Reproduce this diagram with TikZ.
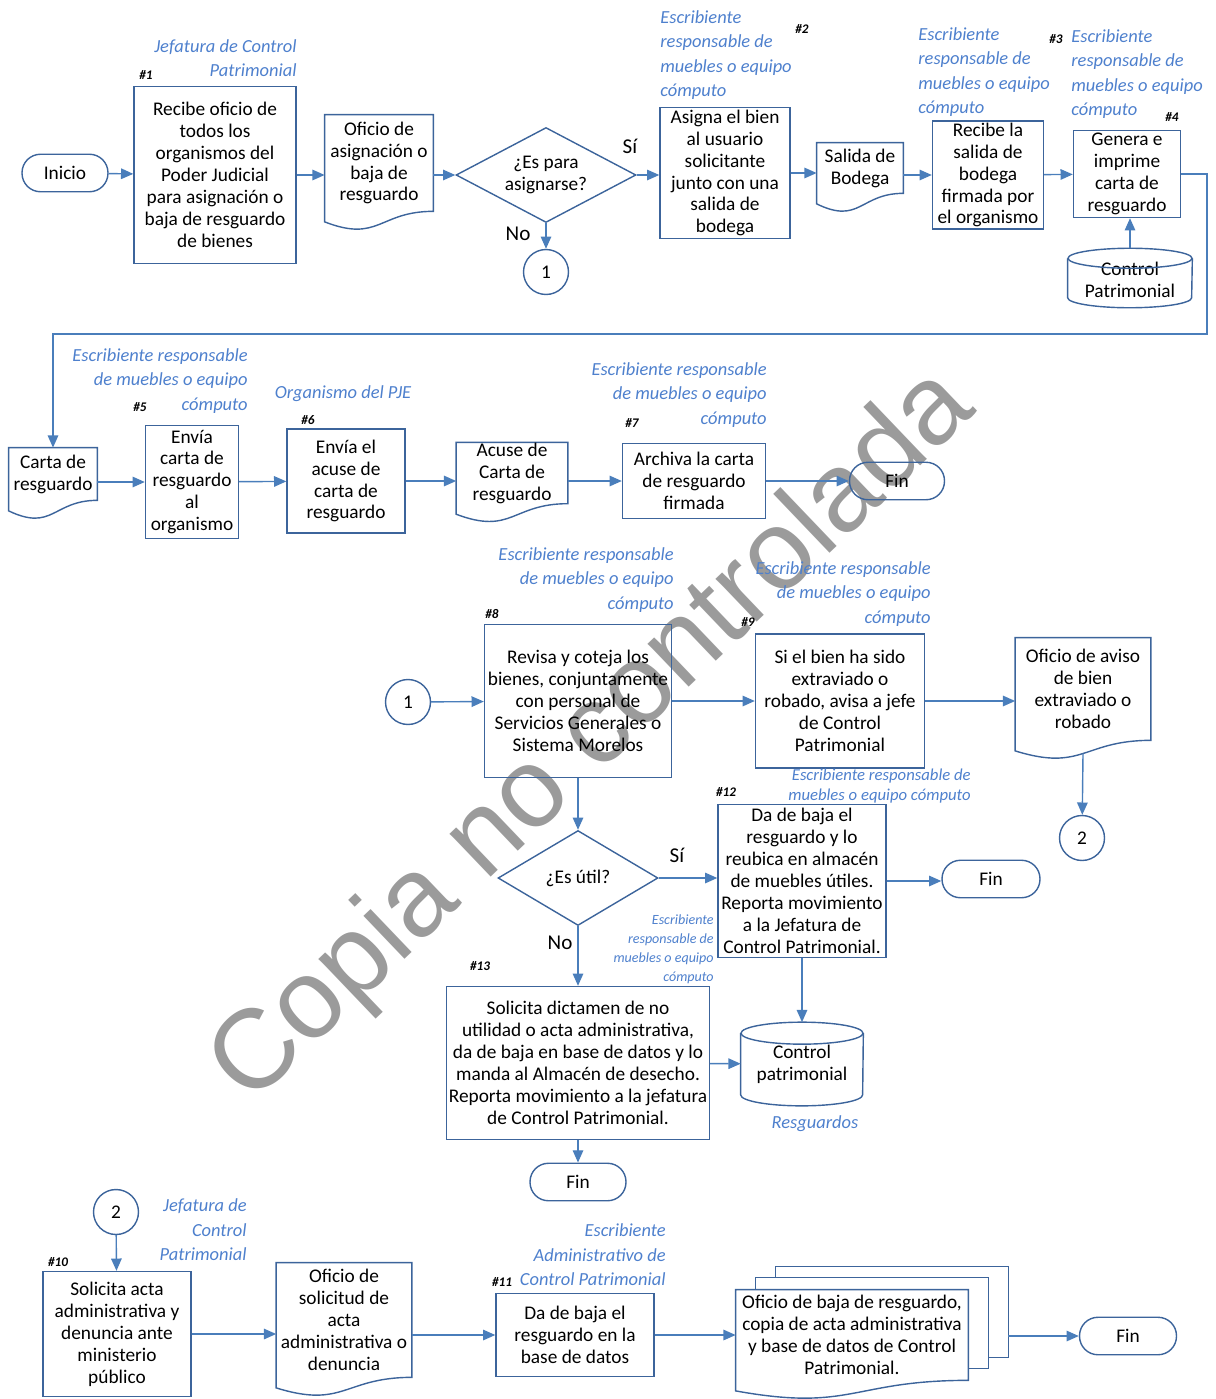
\documentclass[tikz,border=0pt]{standalone}
\usepackage{fontspec}
\setmainfont{Carlito}
\newfontfamily\markfont{Liberation Sans}
\usepackage{tikz}
\usetikzlibrary{shapes.geometric,arrows.meta}

\definecolor{flowline}{RGB}{74,126,187}
\definecolor{flowedge}{RGB}{60,100,155}
\definecolor{rolecol}{RGB}{78,128,205}
\definecolor{markgray}{RGB}{155,155,155}

\newcommand{\flowfont}{\fontsize{11}{12.5}\selectfont}
\newcommand{\rolefont}{\fontsize{10.5}{14}\selectfont\itshape}
\newcommand{\smallrole}{\fontsize{9.5}{11.9}\selectfont\itshape}
\newcommand{\tinyrole}{\fontsize{8}{10.8}\selectfont\itshape}
\newcommand{\stepfont}{\fontsize{7.5}{8}\selectfont\bfseries\itshape}

\pgfdeclarelayer{back}
\pgfsetlayers{back,main}

\newcommand{\docwave}[1]{%
  \begin{pgfonlayer}{back}
    \draw[flow, fill=white] (#1.south east) -- (#1.north east) -- (#1.north west)
      -- ([yshift=-6pt]#1.south west) .. controls ([yshift=-18pt]#1.south) and (#1.south) .. (#1.south east) -- cycle;
  \end{pgfonlayer}}

\newcommand{\dbdrum}[3]{%
  \draw[flow] (#1.north) ellipse[x radius=#2, y radius=#3];
  \draw[flow] (#1.north west) -- (#1.south west)
    arc[start angle=180, end angle=360, x radius=#2, y radius=#3] -- (#1.north east);}

\begin{document}
\begin{tikzpicture}[x=0.02cm, y=-0.02cm,
  every node/.style={font=\flowfont},
  flow/.style={draw=flowedge, line width=0.8pt},
  proc/.style={flow, rectangle, align=center, inner sep=1pt},
  paper/.style={align=center, inner sep=1pt},
  term/.style={flow, rectangle, rounded corners=0.37cm, minimum width=1.94cm, minimum height=0.75cm},
  ask/.style={flow, diamond, align=center, inner sep=0pt},
  link/.style={flow, circle, minimum size=0.9cm, inner sep=0pt},
  datastore/.style={align=center, inner sep=0pt},
  role/.style={font=\rolefont, text=rolecol, inner sep=0pt},
  stepno/.style={font=\stepfont, inner sep=0pt},
  answer/.style={font=\fontsize{12}{14}\selectfont, inner sep=0pt},
  arr/.style={draw=flowline, line width=0.8pt, -{Triangle[length=7pt,width=6pt]}}]

  \useasboundingbox (0,0) rectangle (1215,1399);

  \node[rotate=43.7, text=markgray, font=\markfont\fontsize{64}{70}\selectfont, inner sep=0pt] (wm) at (594,738) {Copia no controlada};

  \node[term, minimum width=1.72cm] (ini) at (65,173) {Inicio};
  \node[proc, minimum width=3.24cm, minimum height=3.54cm] (b1) at (215,175) {Recibe oficio de\\todos los\\organismos del\\Poder Judicial\\para asignación o\\baja de resguardo\\de bienes};
  \node[paper, minimum width=2.16cm, minimum height=1.92cm] (d1) at (379,163) {Oficio de\\asignación o\\baja de\\resguardo};
  \docwave{d1}
  \node[ask, aspect=1.9, minimum width=3.6cm, minimum height=1.9cm] (q1) at (546,175) {¿Es para\\asignarse?};
  \node[link] (c1) at (546,272) {1};
  \node[proc, minimum width=2.6cm, minimum height=2.62cm] (b2) at (725,173) {Asigna el bien\\al usuario\\solicitante\\junto con una\\salida de\\bodega};
  \node[paper, minimum width=1.72cm, minimum height=1cm] (d2) at (860,168) {Salida de\\Bodega};
  \docwave{d2}
  \node[proc, minimum width=2.22cm, minimum height=2.12cm] (b3) at (988,175) {Recibe la\\salida de\\bodega\\firmada por\\el organismo};
  \node[proc, minimum width=2.14cm, minimum height=1.74cm] (b4) at (1127,174) {Genera e\\imprime\\carta de\\resguardo};
  \node[datastore, minimum width=2.48cm, minimum height=0.7cm] (db1) at (1130,278) {\\[-3pt]Control\\Patrimonial};
  \dbdrum{db1}{1.24cm}{0.2cm}

  \node[role, anchor=east, align=right] (r1) at (297,58) {Jefatura de Control\\Patrimonial};
  \node[stepno] (n1) at (146,75) {\#1};
  \node[role, anchor=west, align=left] (r2) at (660,55) {Escribiente\\responsable de\\muebles o equipo\\cómputo};
  \node[stepno] (n2) at (802,29) {\#2};
  \node[role, anchor=west, align=left] (r3) at (918,72) {Escribiente\\responsable de\\muebles o equipo\\cómputo};
  \node[stepno] (n3) at (1056,39) {\#3};
  \node[role, anchor=west, align=left] (r4) at (1071,74) {Escribiente\\responsable de\\muebles o equipo\\cómputo};
  \node[stepno] (n4) at (1172,117) {\#4};
  \node[answer] (si1) at (630,146) {Sí};
  \node[answer] (no1) at (518,234) {No};

  \node[paper, minimum width=1.76cm, minimum height=1.04cm] (d3) at (53,474) {Carta de\\resguardo};
  \docwave{d3}
  \node[role, anchor=east, align=right] (r5) at (248,381) {Escribiente responsable\\de muebles o equipo\\cómputo};
  \node[stepno] (n5) at (140,407) {\#5};
  \node[proc, minimum width=1.86cm, minimum height=2.26cm] (b5) at (192,482) {Envía\\carta de\\resguardo\\al\\organismo};
  \node[role] (r6) at (343,394) {Organismo del PJE};
  \node[stepno] (n6) at (308,420) {\#6};
  \node[proc, minimum width=2.36cm, minimum height=2.08cm] (b6) at (346,481) {Envía el\\acuse de\\carta de\\resguardo};
  \node[paper, minimum width=2.22cm, minimum height=1.2cm, inner sep=0pt] (d4) at (512,473) {Acuse de\\Carta de\\resguardo};
  \docwave{d4}
  \node[role, anchor=east, align=right] (r7) at (767,395) {Escribiente responsable\\de muebles o equipo\\cómputo};
  \node[stepno] (n7) at (632,423) {\#7};
  \node[proc, minimum width=2.86cm, minimum height=1.5cm] (b7) at (694,481) {Archiva la carta\\de resguardo\\firmada};
  \node[term, minimum width=1.9cm] (fin1) at (897,481) {Fin};

  \node[link] (c2) at (408,702) {1};
  \node[proc, minimum width=3.74cm, minimum height=3.06cm] (b8) at (578,701) {Revisa y coteja los\\bienes, conjuntamente\\con personal de\\Servicios Generales o\\Sistema Morelos};
  \node[role, anchor=east, align=right] (r8) at (674,580) {Escribiente responsable\\de muebles o equipo\\cómputo};
  \node[stepno] (n8) at (492,614) {\#8};
  \node[proc, minimum width=3.38cm, minimum height=2.68cm] (b9) at (840,701) {Si el bien ha sido\\extraviado o\\robado, avisa a jefe\\de Control\\Patrimonial};
  \node[role, anchor=east, align=right] (r9) at (931,594) {Escribiente responsable\\de muebles o equipo\\cómputo};
  \node[stepno] (n9) at (748,622) {\#9};
  \node[paper, minimum width=2.7cm, minimum height=2.04cm] (d5) at (1083,689) {Oficio de aviso\\de bien\\extraviado o\\robado};
  \docwave{d5}
  \node[link] (c3) at (1082,838) {2};
  \node[role, anchor=east, align=right, font=\smallrole] (r12) at (971,786) {Escribiente responsable de\\muebles o equipo cómputo};
  \node[ask, aspect=1.7, minimum width=3.2cm, minimum height=1.9cm] (q2) at (578,878) {¿Es útil?};
  \node[proc, minimum width=3.36cm, minimum height=3.06cm] (b12) at (802,881) {Da de baja el\\resguardo y lo\\reubica en almacén\\de muebles útiles.\\Reporta movimiento\\a la Jefatura de\\Control Patrimonial.};
  \node[stepno] (n12) at (726,792) {\#12};
  \node[term, minimum width=1.96cm] (fin2) at (991,879) {Fin};
  \node[answer] (si2) at (677,855) {Sí};
  \node[answer] (no2) at (560,943) {No};
  \node[role, anchor=east, align=right, font=\tinyrole] (r13) at (714,949) {Escribiente\\responsable de\\muebles o equipo\\cómputo};
  \node[proc, minimum width=5.26cm, minimum height=3.06cm] (b13) at (578,1063) {Solicita dictamen de no\\utilidad o acta administrativa,\\da de baja en base de datos y lo\\manda al Almacén de desecho.\\Reporta movimiento a la jefatura\\de Control Patrimonial.};
  \node[stepno] (n13) at (480,966) {\#13};
  \node[datastore, minimum width=2.44cm, minimum height=1.22cm] (db2) at (802,1064) {Control\\patrimonial};
  \dbdrum{db2}{1.22cm}{0.22cm}
  \node[role] (r14) at (815,1124) {Resguardos};
  \node[term, minimum width=1.92cm] (fin3) at (578,1182) {Fin};

  \node[link] (c4) at (116,1212) {2};
  \node[role, anchor=east, align=right] (r10) at (247,1230) {Jefatura de\\Control\\Patrimonial};
  \node[stepno] (n10) at (58,1262) {\#10};
  \node[proc, minimum width=2.96cm, minimum height=2.5cm] (b10) at (117,1334) {Solicita acta\\administrativa y\\denuncia ante\\ministerio\\público};
  \node[paper, minimum width=2.7cm, minimum height=2.28cm] (d6) at (344,1320) {Oficio de\\solicitud de\\acta\\administrativa o\\denuncia};
  \docwave{d6}
  \node[role, anchor=east, align=right] (r11) at (666,1255) {Escribiente\\Administrativo de\\Control Patrimonial};
  \node[stepno] (n11) at (502,1282) {\#11};
  \node[proc, minimum width=3.16cm, minimum height=1.66cm] (b11) at (575,1335) {Da de baja el\\resguardo en la\\base de datos};
  \node[paper, minimum width=4.64cm, minimum height=1.8cm] (md) at (852,1335) {Oficio de baja de resguardo,\\copia de acta administrativa\\y base de datos de Control\\Patrimonial.};
  \begin{pgfonlayer}{back}
    \draw[flow, fill=white] ([shift={(40,-23)}]md.north west) rectangle ([shift={(40,-23)}]md.south east);
    \draw[flow, fill=white] ([shift={(20,-12)}]md.north west) rectangle ([shift={(20,-12)}]md.south east);
  \end{pgfonlayer}
  \docwave{md}
  \coordinate (mdback) at ([shift={(40,-23)}]md.south east);
  \node[term] (fin4) at (1128,1336) {Fin};

  \coordinate (turn) at (1207,334);

  \draw[arr] (ini) -- (b1);
  \draw[arr] (b1.east) -- (b1.east -| d1.west);
  \draw[arr] (d1.east |- q1.west) -- (q1.west);
  \draw[arr] (q1.east) -- (q1.east -| b2.west);
  \draw[arr] (q1) -- (c1);
  \draw[arr] (b2.east) -- (b2.east -| d2.west);
  \draw[arr] (d2.east |- b3.west) -- (b3.west);
  \draw[arr] (b3) -- (b4);
  \draw[arr] ([yshift=0.2cm]db1.north) -- (db1.north |- b4.south);
  \draw[arr] (b4.east) -| (turn) -| (d3.north);

  \draw[arr] (d3.east |- b5.west) -- (b5.west);
  \draw[arr] (b5) -- (b6);
  \draw[arr] (b6.east) -- (b6.east -| d4.west);
  \draw[arr] (d4.east |- b7.west) -- (b7.west);
  \draw[arr] (b7) -- (fin1);

  \draw[arr] (c2) -- (b8);
  \draw[arr] (b8) -- (b9);
  \draw[arr] (b9.east) -- (b9.east -| d5.west);
  \draw[arr] ([yshift=-7.5pt]d5.south) -- (c3);
  \draw[arr] (b8) -- (q2);
  \draw[arr] (q2.east) -- (q2.east -| b12.west);
  \draw[arr] (b12.east) -- (b12.east -| fin2.west);
  \draw[arr] (q2) -- (b13);
  \draw[arr] (b12.south) -- ([yshift=0.22cm]db2.north);
  \draw[arr] (b13) -- (db2);
  \draw[arr] (b13) -- (fin3);

  \draw[arr] (c4) -- (b10);
  \draw[arr] (b10.east) -- (b10.east -| d6.west);
  \draw[arr] (d6.east |- b11.west) -- (b11.west);
  \draw[arr] (b11) -- (md);
  \draw[arr] (mdback |- fin4) -- (fin4);

\end{tikzpicture}
\end{document}
